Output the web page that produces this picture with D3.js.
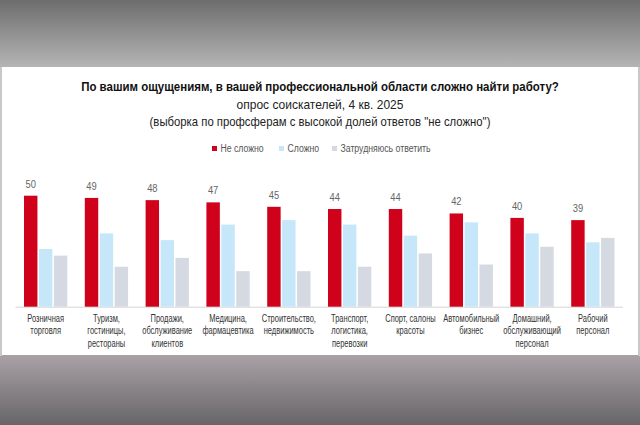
<!DOCTYPE html>
<html>
<head>
<meta charset="utf-8">
<script src="https://cdn.jsdelivr.net/npm/d3@7"></script>
<style>
  html, body { margin: 0; padding: 0; background: #fff; }
  svg { display: block; }
  text { font-family: "Liberation Sans", "Roboto", sans-serif; }
</style>
</head>
<body>
<div id="chart"></div>
<script>
// categories, split into label lines
const categories = [
  ['Розничная', 'торговля'],
  ['Туризм,', 'гостиницы,', 'рестораны'],
  ['Продажи,', 'обслуживание', 'клиентов'],
  ['Медицина,', 'фармацевтика'],
  ['Строительство,', 'недвижимость'],
  ['Транспорт,', 'логистика,', 'перевозки'],
  ['Спорт, салоны', 'красоты'],
  ['Автомобильный', 'бизнес'],
  ['Домашний,', 'обслуживающий', 'персонал'],
  ['Рабочий', 'персонал']
];
const notHard = [50, 49, 48, 47, 45, 44, 44, 42, 40, 39];
const hard = [26, 33, 30, 37, 39, 37, 32, 38, 33, 29];
const undecided = [23, 18, 22, 16, 16, 18, 24, 19, 27, 31];
const seriesNames = ['Не сложно', 'Сложно', 'Затрудняюсь ответить'];
const seriesColors = ['#d0021b', '#c6e7f9', '#d4d9e2'];

const title = 'По вашим ощущениям, в вашей профессиональной области сложно найти работу?';
const subtitle1 = 'опрос соискателей, 4 кв. 2025';
const subtitle2 = '(выборка по профсферам с высокой долей ответов "не сложно")';

const W = 640, H = 425;
const svg = d3.select('#chart').append('svg')
  .attr('width', W)
  .attr('height', H);

// the original uses a condensed face: place text at (x, y) and squeeze it sideways
function placeText(parent, x, y, str, k) {
  const t = parent.append('text')
    .attr('x', 0).attr('y', 0)
    .text(str);
  return t.attr('transform', `translate(${x},${y}) scale(${k},1)`);
}
function fitText(sel, x, y, width) {
  const w = sel.node().getComputedTextLength();
  sel.attr('transform', `translate(${x},${y}) scale(${width / w},1)`);
}

// background: grey gradients above and below the white panel
const defs = svg.append('defs');
const gTop = defs.append('linearGradient').attr('id', 'bgTop')
  .attr('x1', 0).attr('y1', 0).attr('x2', 0).attr('y2', 1);
gTop.append('stop').attr('offset', '0%').attr('stop-color', '#6d6d6d');
gTop.append('stop').attr('offset', '100%').attr('stop-color', '#b6b6b6');
const gBot = defs.append('linearGradient').attr('id', 'bgBot')
  .attr('x1', 0).attr('y1', 0).attr('x2', 0).attr('y2', 1);
gBot.append('stop').attr('offset', '0%').attr('stop-color', '#aaa1a5');
gBot.append('stop').attr('offset', '100%').attr('stop-color', '#676568');

svg.append('rect').attr('x', 0).attr('y', 0).attr('width', W).attr('height', 68).attr('fill', 'url(#bgTop)');
svg.append('rect').attr('x', 0).attr('y', 355).attr('width', W).attr('height', H - 355).attr('fill', 'url(#bgBot)');
svg.append('rect').attr('x', 0).attr('y', 67).attr('width', 2).attr('height', 289).attr('fill', '#c8c8c8');
svg.append('rect').attr('x', 638).attr('y', 67).attr('width', 2).attr('height', 289).attr('fill', '#c8c8c8');
svg.append('rect').attr('x', 2).attr('y', 67).attr('width', 636).attr('height', 288).attr('fill', '#ffffff');

// titles
const tTitle = svg.append('text')
  .attr('text-anchor', 'middle')
  .attr('font-size', 13.5)
  .attr('font-weight', 'bold')
  .attr('fill', '#111')
  .text(title);
fitText(tTitle, W / 2, 90.5, 478);

const tSub1 = svg.append('text')
  .attr('text-anchor', 'middle')
  .attr('font-size', 13)
  .attr('fill', '#222')
  .text(subtitle1);
fitText(tSub1, W / 2, 108.5, 167);

const tSub2 = svg.append('text')
  .attr('text-anchor', 'middle')
  .attr('font-size', 13)
  .attr('fill', '#222')
  .text(subtitle2);
fitText(tSub2, W / 2, 126, 341);

// legend
const legendX = [212, 279, 332];
const legend = svg.append('g');
seriesNames.forEach((name, i) => {
  const g = legend.append('g').attr('transform', `translate(${legendX[i]},148.5)`);
  g.append('rect').attr('x', 0).attr('y', -2.5).attr('width', 5).attr('height', 5).attr('fill', seriesColors[i]);
  placeText(g, 8.5, 3.6, name, 0.87)
    .attr('font-size', 10).attr('fill', '#555');
});

// scales
const data = categories.map((c, i) => ({
  idx: i,
  lines: c,
  values: [notHard[i], hard[i], undecided[i]]
}));

const x0 = d3.scaleBand()
  .domain(data.map(d => d.idx))
  .range([15.25, 623.25])
  .paddingInner(0.288)
  .paddingOuter(0.144);

const x1 = d3.scaleBand()
  .domain([0, 1, 2])
  .range([0, x0.bandwidth()])
  .paddingInner(0.1);

const y = d3.scaleLinear()
  .domain([0, 50])
  .range([306.7, 195.7]);

// baseline
svg.append('line')
  .attr('x1', 15.5).attr('x2', 623)
  .attr('y1', y(0) + 0.5).attr('y2', y(0) + 0.5)
  .attr('stroke', '#d6d6d6')
  .attr('stroke-width', 1);

// bars
const groups = svg.append('g').selectAll('g')
  .data(data)
  .join('g')
  .attr('transform', d => `translate(${x0(d.idx)},0)`);

groups.selectAll('rect')
  .data(d => d.values.map((v, k) => ({k, v})))
  .join('rect')
  .attr('x', d => x1(d.k))
  .attr('y', d => y(d.v))
  .attr('width', x1.bandwidth())
  .attr('height', d => y(0) - y(d.v))
  .attr('fill', d => seriesColors[d.k]);

// value labels for the first series
groups.append('text')
  .attr('text-anchor', 'middle')
  .attr('font-size', 11)
  .attr('fill', '#666')
  .attr('transform', d => `translate(${x1(0) + x1.bandwidth() / 2},${y(d.values[0]) - 8}) scale(0.85,1)`)
  .text(d => d.values[0]);

// category labels, one text per line
groups.selectAll('text.cat')
  .data(d => d.lines)
  .join('text')
  .attr('class', 'cat')
  .attr('text-anchor', 'middle')
  .attr('font-size', 10)
  .attr('fill', '#333')
  .attr('transform', (l, i) => `translate(${x0.bandwidth() / 2},${321.5 + i * 12.5}) scale(0.75,1)`)
  .text(l => l);
</script>
</body>
</html>
